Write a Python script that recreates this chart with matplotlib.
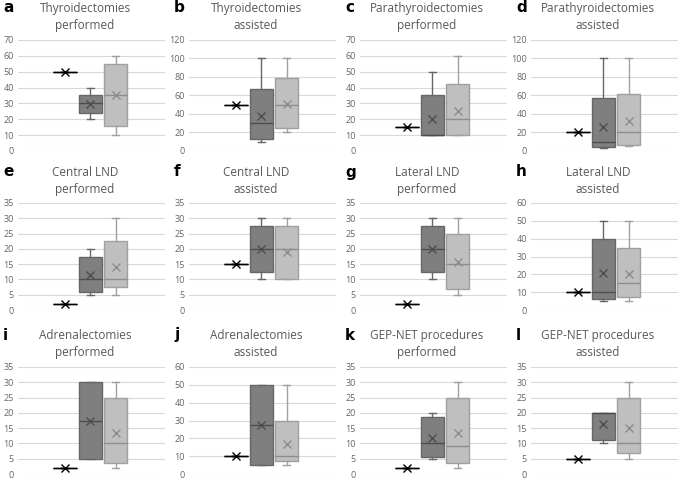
import matplotlib.pyplot as plt

# Panel letters and titles
letters = ['a', 'b', 'c', 'd', 'e', 'f', 'g', 'h', 'i', 'j', 'k', 'l']
titles = ['Thyroidectomies\nperformed', 'Thyroidectomies\nassisted',
          'Parathyroidectomies\nperformed', 'Parathyroidectomies\nassisted',
          'Central LND\nperformed', 'Central LND\nassisted',
          'Lateral LND\nperformed', 'Lateral LND\nassisted',
          'Adrenalectomies\nperformed', 'Adrenalectomies\nassisted',
          'GEP-NET procedures\nperformed', 'GEP-NET procedures\nassisted']
ymax = [70, 120, 70, 120, 35, 35, 35, 60, 35, 60, 35, 35]
ystep = [10, 20, 10, 20, 5, 5, 5, 10, 5, 10, 5, 5]

# Each series: [whislo, q1, med, q3, whishi, mean] per panel
series1 = [
    [50, 50, 50, 50, 50, 50], [50, 50, 50, 50, 50, 50],
    [15, 15, 15, 15, 15, 15], [20, 20, 20, 20, 20, 20],
    [2, 2, 2, 2, 2, 2], [15, 15, 15, 15, 15, 15],
    [2, 2, 2, 2, 2, 2], [10, 10, 10, 10, 10, 10],
    [2, 2, 2, 2, 2, 2], [10, 10, 10, 10, 10, 10],
    [2, 2, 2, 2, 2, 2], [5, 5, 5, 5, 5, 5],
]
series2 = [
    [20, 24, 30, 35, 40, 29.5], [10, 13, 30, 67, 100, 38],
    [10, 10, 10, 35, 50, 20], [3, 4, 10, 57, 100, 26],
    [5, 6, 10, 17.5, 20, 11.5], [10, 12.5, 20, 27.5, 30, 20],
    [10, 12.5, 20, 27.5, 30, 20], [5, 6, 10, 40, 50, 20.5],
    [5, 5, 17.5, 30, 30, 17.5], [5, 5, 27.5, 50, 50, 27.5],
    [5, 5.5, 10, 18.75, 20, 11.75], [10, 11, 20, 20, 20, 16.5],
]
series3 = [
    [10, 16, 35, 55, 60, 35.5], [20, 25, 50, 79, 100, 51],
    [10, 10, 20, 42.5, 60, 25], [5, 7, 20, 62, 100, 32],
    [5, 7.5, 10, 22.5, 30, 14], [10, 10, 20, 27.5, 30, 19],
    [5, 6.75, 15, 25, 30, 15.75], [5, 7.5, 15, 35, 50, 20],
    [2, 3.5, 10, 25, 30, 13.5], [5, 7.5, 10, 30, 50, 17],
    [2, 3.5, 9, 25, 30, 13.25], [5, 7, 10, 25, 30, 15],
]

# fill, edge, median, mean colours per series
styles = [
    ('none', '#000000', '#000000', '#000000'),
    ('#7f7f7f', '#666666', '#4d4d4d', '#4d4d4d'),
    ('#bfbfbf', '#a0a0a0', '#8c8c8c', '#8c8c8c'),
]

W, H = 684, 479
fig = plt.figure(figsize=(W / 100, H / 100), dpi=100)
plt.rcParams['font.family'] = ['Open Sans', 'DejaVu Sans']

row_top = [40, 203, 367]
row_bot = [151, 310, 474]
title_y = [17, 181, 344]

def stat(v):
    return dict(whislo=v[0], q1=v[1], med=v[2], q3=v[3], whishi=v[4], mean=v[5], fliers=[])

for i in range(12):
    r, c = divmod(i, 4)
    x0 = c * 171
    ax = fig.add_axes([(x0 + 18) / W, 1 - row_bot[r] / H, 147 / W, (row_bot[r] - row_top[r]) / H])
    for s, data in enumerate([series1, series2, series3]):
        fill, edge, medc, meanc = styles[s]
        ax.bxp([stat(data[i])], positions=[2 + s], widths=0.92, capwidths=0.28,
               patch_artist=True, showmeans=True, showfliers=False,
               boxprops=dict(facecolor=fill, edgecolor=edge, linewidth=1.0),
               whiskerprops=dict(color=edge, linewidth=1.0),
               capprops=dict(color=edge, linewidth=1.0),
               medianprops=dict(color=medc, linewidth=1.0),
               meanprops=dict(marker='x', markeredgecolor=meanc, markersize=6, markeredgewidth=1.0))
    ax.set_xlim(0.15, 5.95)
    ax.set_ylim(0, ymax[i])
    ax.set_yticks(range(0, ymax[i] + 1, ystep[i]))
    ax.set_xticks([])
    ax.grid(axis='y', color='#d9d9d9', linewidth=0.8)
    ax.set_axisbelow(True)
    for sp in ax.spines.values():
        sp.set_visible(False)
    ax.tick_params(axis='y', length=0, labelsize=6.5, labelcolor='#666666', pad=3)
    fig.text((x0 + 85) / W, 1 - title_y[r] / H, titles[i], ha='center', va='center',
             fontsize=8.5, color='#595959', linespacing=1.45)
    fig.text((x0 + 3) / W, 1 - (title_y[r] - 9) / H, letters[i], ha='left', va='center',
             fontsize=11, fontweight='bold', color='#000000', family=['DejaVu Sans'])

plt.savefig('out.png', dpi=100)
